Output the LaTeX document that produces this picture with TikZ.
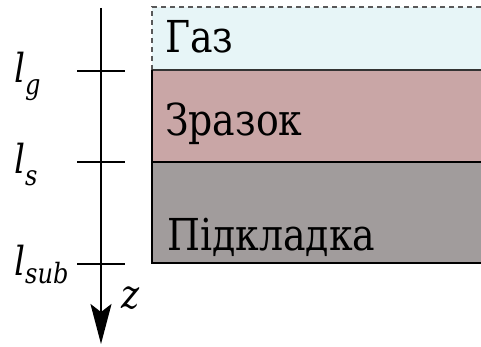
\documentclass[tikz,border=0pt]{standalone}
\usepackage{fontspec}
\newfontfamily\tnr[FakeStretch=0.86]{DejaVu Serif}
\usetikzlibrary{arrows.meta}
\definecolor{gascol}{RGB}{231,245,247}
\definecolor{samplecol}{RGB}{201,166,166}
\definecolor{subcol}{RGB}{161,156,156}
\tikzset{
  layertext/.style={anchor=base west, inner sep=0pt, font=\tnr\fontsize{44}{50}\selectfont},
  axlabel/.style={anchor=base west, inner sep=0pt, font=\tnr\fontsize{40}{44}\selectfont\itshape},
  tickline/.style={line width=1.8pt},
  border/.style={line width=1.5pt}
}
\begin{document}
\begin{tikzpicture}[x=1pt,y=-1pt]
\useasboundingbox (0,0) rectangle (481,347);
% layers
\fill[gascol] (152,7) rectangle (481,70);
\fill[samplecol] (152,70) rectangle (481,162);
\fill[subcol] (152,162) rectangle (481,263);
\draw[gray!70!black, line width=1.2pt, dash pattern=on 5pt off 4pt] (152,70) -- (152,7) -- (481,7);
\draw[border, black!80] (152,70) -- (481,70);
\draw[border] (152,162) -- (481,162);
\draw[border] (152,70) -- (152,263) -- (481,263);
% texts
\node[layertext] (gas) at (165,53) {Газ};
\node[layertext] (sample) at (165,136) {Зразок};
\node[layertext] (sub) at (167,250) {Підкладка};
% axis
\coordinate (atop) at (101,8);
\coordinate (atip) at (101,344);
\draw[line width=2pt, -{Stealth[length=40pt,width=21pt,inset=8pt]}] (atop) -- (atip);
\coordinate (tg1) at (77,71); \coordinate (tg2) at (125,71);
\coordinate (ts1) at (77,162); \coordinate (ts2) at (125,162);
\coordinate (tb1) at (77,264); \coordinate (tb2) at (125,264);
\draw[tickline] (tg1) -- (tg2);
\draw[tickline] (ts1) -- (ts2);
\draw[tickline] (tb1) -- (tb2);
% labels
\node[axlabel] (lg) at (14,83) {l\raisebox{-12pt}{\fontsize{28}{30}\selectfont g}};
\node[axlabel] (ls) at (14,174) {l\raisebox{-12pt}{\fontsize{28}{30}\selectfont s}};
\node[axlabel] (lsub) at (14,275) {l\raisebox{-8pt}{\fontsize{28}{30}\selectfont sub}};
\node[axlabel] (z) at (121,308) {z};
\end{tikzpicture}
\end{document}
